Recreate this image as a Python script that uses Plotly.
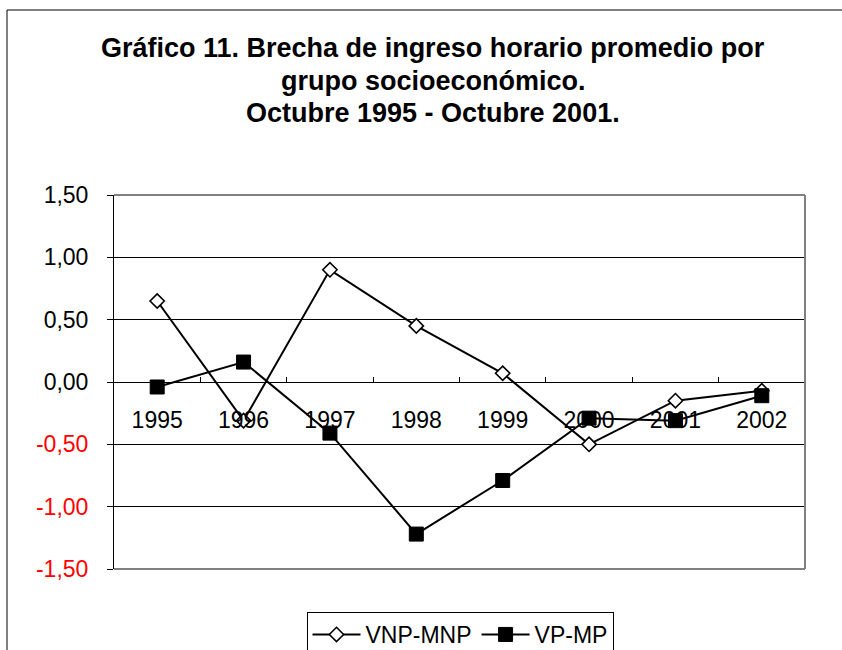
import plotly.graph_objects as go

years = ["1995", "1996", "1997", "1998", "1999", "2000", "2001", "2002"]
vnp_mnp = [0.65, -0.31, 0.90, 0.45, 0.07, -0.50, -0.15, -0.07]
vp_mp = [-0.04, 0.16, -0.41, -1.22, -0.79, -0.29, -0.31, -0.11]
y_ticks = [-1.5, -1.0, -0.5, 0.0, 0.5, 1.0, 1.5]
y_labels = ["-1,50", "-1,00", "-0,50", "0,00", "0,50", "1,00", "1,50"]
title_lines = ["Gráfico 11. Brecha de ingreso horario promedio por",
               "grupo socioeconómico.",
               "Octubre 1995 - Octubre 2001."]

W, H = 842, 650
L, R, T, B = 114, 805, 195, 569

def px(x):
    return (x - L) / (R - L)

def py(y):
    return (B - y) / (B - T)

tick_text = [f'<span style="color:red">{t}</span>' if v < 0 else t
             for v, t in zip(y_ticks, y_labels)]

fig = go.Figure()
fig.add_trace(go.Scatter(
    x=years, y=vnp_mnp, name="VNP-MNP", mode="lines+markers",
    line=dict(color="black", width=2),
    marker=dict(symbol="diamond", size=11, color="white",
                line=dict(color="black", width=1.6)),
))
fig.add_trace(go.Scatter(
    x=years, y=vp_mp, name="VP-MP", mode="lines+markers",
    line=dict(color="black", width=2),
    marker=dict(symbol="square", size=14, color="black",
                line=dict(color="black", width=1)),
))

font_family = "Liberation Sans, Arial, sans-serif"

fig.update_layout(
    width=W, height=H,
    margin=dict(l=L, r=W - R, t=T, b=H - B, pad=0, autoexpand=False),
    paper_bgcolor="white", plot_bgcolor="white",
    font=dict(family=font_family, size=23, color="black"),
    showlegend=True,
    legend=dict(orientation="h", x=px(460), xanchor="center",
                y=py(612), yanchor="top", itemwidth=48,
                bordercolor="black", borderwidth=1, bgcolor="white",
                font=dict(size=23, family=font_family, color="black")),
    xaxis=dict(type="category", range=[-0.5, 7.5], anchor="free",
               position=0.5, showline=True, linecolor="black", linewidth=1,
               ticks="inside", ticklen=5, tickcolor="black",
               tickson="boundaries", showgrid=False, zeroline=False,
               ticklabelstandoff=17,
               tickfont=dict(size=23, family=font_family, color="black")),
    yaxis=dict(range=[-1.5, 1.5], domain=[0, 1], tickvals=y_ticks,
               ticktext=tick_text, showline=True, linecolor="black",
               linewidth=1, ticks="outside", ticklen=6, tickcolor="black",
               showgrid=True, gridcolor="black", gridwidth=1,
               zeroline=True, zerolinecolor="black", zerolinewidth=1,
               ticklabelstandoff=14,
               tickfont=dict(size=23, family=font_family, color="black")),
)

# plot area border (grey) and outer frame
shapes = [
    dict(type="line", xref="paper", yref="paper", x0=0, x1=1, y0=1, y1=1,
         line=dict(color="#808080", width=2)),
    dict(type="line", xref="paper", yref="paper", x0=1, x1=1, y0=0, y1=1,
         line=dict(color="#808080", width=2)),
    dict(type="line", xref="paper", yref="paper", x0=0, x1=1, y0=0, y1=0,
         line=dict(color="#808080", width=2)),
    dict(type="rect", xref="paper", yref="paper", x0=px(7), x1=px(900),
         y0=py(700), y1=py(10), line=dict(color="black", width=1),
         fillcolor="rgba(0,0,0,0)"),
]
fig.update_layout(shapes=shapes)

for line, ypix in zip(title_lines, [47.5, 80.5, 113.5]):
    fig.add_annotation(text=f"<b>{line}</b>", xref="paper", yref="paper",
                       x=px(433), y=py(ypix), xanchor="center",
                       yanchor="middle", showarrow=False,
                       font=dict(size=27, family=font_family, color="black"))

fig.write_html(
    "out.html",
    config={"displayModeBar": False},
    post_script="document.body.style.margin='0';"
                "document.body.style.overflow='hidden';",
)
